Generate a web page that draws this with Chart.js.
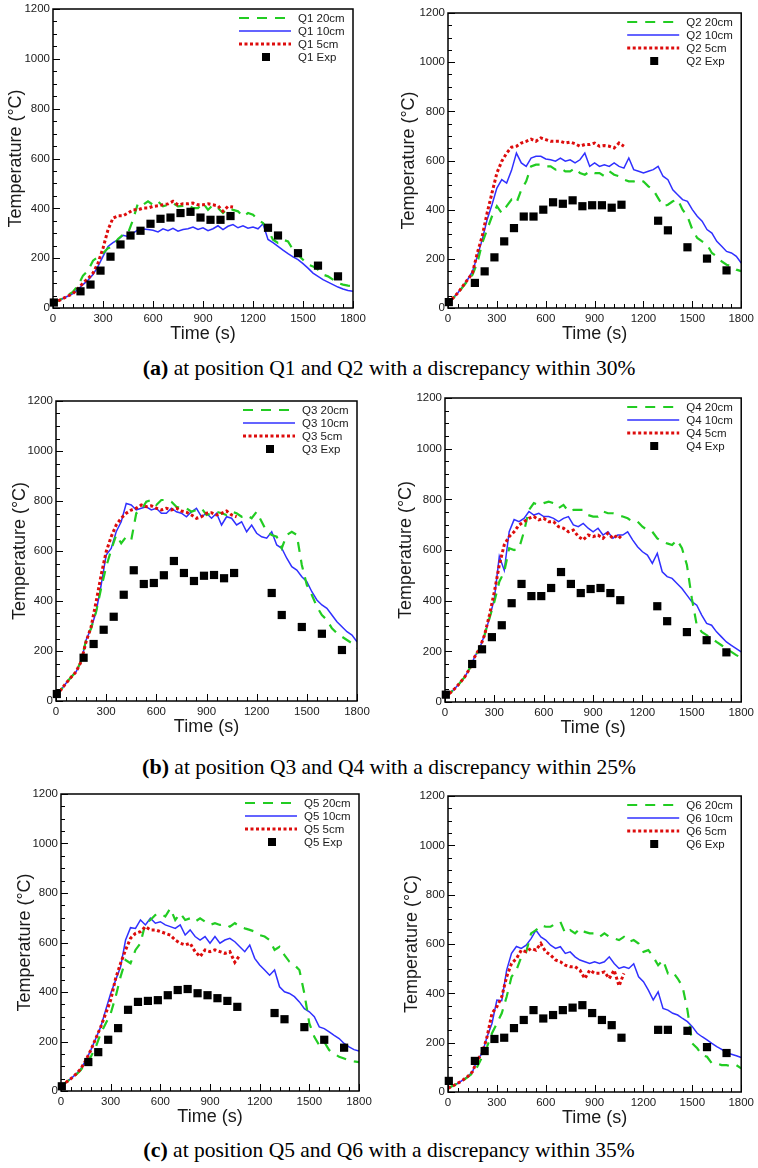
<!DOCTYPE html>
<html><head><meta charset="utf-8">
<script src="https://cdn.jsdelivr.net/npm/chart.js@4.4.1/dist/chart.umd.min.js"></script>
<style>
html,body{margin:0;padding:0;background:#fff;}
body{width:758px;height:1168px;position:relative;overflow:hidden;}
canvas{position:absolute;}
.cap{position:absolute;left:10px;width:758px;text-align:center;font-family:"Liberation Serif","Times New Roman",serif;font-size:21.5px;color:#000;line-height:24px;white-space:nowrap;}
.cap b{font-size:22px;}
</style></head><body>
<div class="cap" style="top:356px"><b>(a)</b> at position Q1 and Q2 with a discrepancy within 30%</div>
<div class="cap" style="top:755px"><b>(b)</b> at position Q3 and Q4 with a discrepancy within 25%</div>
<div class="cap" style="top:1138px"><b>(c)</b> at position Q5 and Q6 with a discrepancy within 35%</div>
<script>
// ---- time axes (s) ----
const TIME = [0,30,60,90,120,150,180,210,240,270,
  300,330,360,390,420,450,480,510,540,570,
  600,630,660,690,720,750,780,810,840,870,
  900,930,960,990,1020,1050,1080,1110,1140,1170,
  1200,1230,1260,1290,1320,1350,1380,1410,1440,1470,
  1500,1530,1560,1590,1620,1650,1680,1710,1740,1770,
  1800];
const TIME_5CM = [0,30,60,90,120,150,180,210,240,270,
  300,330,360,390,420,450,480,510,540,570,
  600,630,660,690,720,750,780,810,840,870,
  900,930,960,990,1020,1050,1080];
const EXP_TIME = [5,165,225,285,345,405,465,525,585,645,705,765,825,885,945,1005,1065,1290,1350,1470,1590,1710];
const X_TICKS = [0,300,600,900,1200,1500,1800];
const Y_TICKS = [0,200,400,600,800,1000,1200];

// ---- Q1 ----
const Q1_20CM = [22,28,40,52,65,90,130,150,190,205,
  220,240,247,277,294,300,354,421,414,428,
  414,428,408,414,421,408,410,414,401,401,
  421,394,414,401,381,401,394,388,367,381,
  374,354,341,314,274,261,274,267,234,214,
  194,174,167,154,134,127,114,100,94,90,
  87];
const Q1_10CM = [22,28,38,48,58,75,94,112,134,167,
  207,247,262,274,292,287,300,314,317,315,
  312,305,318,310,320,308,315,318,325,315,
  322,310,318,330,315,328,335,322,330,320,
  325,318,338,275,262,247,232,218,205,194,
  178,160,140,127,114,104,94,84,76,70,
  67];
const Q1_5CM = [22,28,38,48,58,78,100,118,140,180,
  240,314,361,370,370,381,394,394,401,401,
  408,410,414,418,428,414,418,418,421,414,
  414,418,414,410,388,408,405];
const Q1_EXP = [22,67,94,150,206,255,291,310,338,358,363,381,386,363,354,354,369,322,291,220,170,127];

// ---- Q2 ----
const Q2_20CM = [20,40,58,85,110,135,183,264,319,373,
  414,386,414,441,427,481,515,576,583,583,
  576,576,563,569,556,556,569,549,542,556,
  549,549,536,556,542,536,522,515,515,508,
  515,495,481,447,414,420,434,441,400,373,
  319,285,271,258,224,210,190,176,169,156,
  150];
const Q2_10CM = [20,40,61,88,115,149,210,278,359,420,
  488,522,508,560,630,590,576,610,617,617,
  606,603,597,610,597,603,590,603,630,576,
  590,576,583,576,590,576,569,610,563,556,
  549,556,563,576,536,522,481,461,441,434,
  400,373,353,319,305,271,251,230,224,210,
  183];
const Q2_5CM = [20,40,61,88,115,142,224,292,386,468,
  549,597,630,654,658,671,678,687,678,692,
  685,678,678,678,671,675,668,658,665,665,
  671,658,661,658,651,671,658];
const Q2_EXP = [24,102,149,206,271,325,372,372,400,430,424,438,414,418,418,408,420,355,316,247,201,153];

// ---- Q3 ----
const Q3_20CM = [24,45,71,95,117,160,244,291,357,451,
  537,604,664,631,657,644,751,764,797,804,
  784,804,804,797,777,771,771,757,764,771,
  744,751,757,751,744,757,751,737,744,731,
  757,717,677,664,657,611,664,677,664,544,
  464,424,377,344,324,291,271,257,244,231,
  211];
const Q3_10CM = [24,45,71,95,117,157,244,291,357,464,
  584,610,677,717,790,784,764,771,777,764,
  771,751,751,771,757,751,737,757,771,737,
  751,731,751,704,737,731,704,717,677,704,
  671,657,651,677,624,611,571,537,524,497,
  477,437,404,384,371,344,317,297,277,264,
  237];
const Q3_5CM = [24,45,71,95,117,157,237,297,397,504,
  597,657,704,731,751,764,771,784,777,781,
  771,764,771,764,771,760,755,744,731,737,
  751,753,744,751,760,744,737];
const Q3_EXP = [28,173,228,285,337,425,523,468,472,503,560,512,480,501,504,491,512,432,344,296,269,204];

// ---- Q4 ----
const Q4_20CM = [20,35,53,75,99,132,178,211,264,330,
  396,475,514,607,600,607,672,758,785,778,
  785,791,785,765,778,752,758,758,758,738,
  732,732,752,745,745,738,732,725,712,712,
  692,679,672,646,633,626,620,640,607,541,
  409,303,277,264,251,237,224,211,198,185,
  175];
const Q4_10CM = [20,35,53,75,99,132,178,211,264,330,
  409,575,520,672,720,712,725,752,738,745,
  732,732,725,712,725,732,699,692,705,686,
  672,686,659,672,646,659,659,672,640,613,
  593,580,547,587,514,495,488,468,448,422,
  396,382,343,310,303,277,257,237,224,211,
  198];
const Q4_5CM = [20,35,53,75,99,132,178,211,264,343,
  435,541,620,653,672,699,712,725,732,719,
  725,712,712,692,686,672,679,653,640,659,
  653,659,646,666,646,659,640];
const Q4_EXP = [29,150,208,256,303,390,466,418,418,450,513,466,430,446,450,430,402,378,319,276,244,196];

// ---- Q5 ----
const Q5_20CM = [23,35,50,65,85,115,138,178,232,273,
  313,381,462,529,516,570,597,678,691,711,
  718,705,738,691,718,691,698,684,698,684,
  671,678,671,675,664,678,664,657,651,644,
  630,624,610,570,583,549,522,509,489,394,
  273,219,185,198,165,151,138,131,124,120,
  117];
const Q5_10CM = [23,35,50,68,90,124,165,212,259,327,
  394,448,502,610,660,657,691,671,698,678,
  684,671,664,657,671,630,651,624,610,624,
  597,624,597,610,617,603,583,563,590,536,
  509,489,468,489,421,401,394,381,360,333,
  320,300,259,252,239,225,212,192,178,167,
  161];
const Q5_5CM = [23,35,50,68,90,124,165,212,259,313,
  367,455,516,570,617,637,644,664,651,651,
  644,637,630,610,597,590,597,563,543,570,
  563,570,563,556,563,520,549];
const Q5_EXP = [19,117,157,207,254,328,360,364,367,387,408,412,395,387,375,364,340,315,290,258,207,175];

// ---- Q6 ----
const Q6_20CM = [15,25,35,45,60,75,103,143,184,238,
  278,319,386,467,494,548,568,643,656,676,
  670,670,683,690,643,656,643,663,649,643,
  643,629,643,629,622,616,629,609,616,602,
  568,575,548,514,535,481,487,460,427,332,
  197,177,150,143,116,116,109,109,103,109,
  96];
const Q6_10CM = [15,25,35,48,62,82,130,157,224,278,
  373,370,494,562,590,582,595,622,656,629,
  616,595,582,589,562,568,548,535,528,521,
  528,521,528,548,521,501,508,501,520,467,
  447,413,373,406,339,332,319,312,298,285,
  265,238,224,211,197,184,173,159,153,147,
  140];
const Q6_5CM = [15,25,35,48,62,82,130,157,224,319,
  346,386,467,521,541,575,568,582,575,602,
  568,555,535,528,514,508,508,494,460,494,
  481,481,487,460,494,430,481];
const Q6_EXP = [45,126,166,215,220,259,292,332,298,312,332,342,352,320,292,271,220,252,252,248,182,158];

const GREEN = '#22cc22', BLUE = '#3030ff', RED = '#dd0c0c', BLACK = '#000000';
const FONT = '"Liberation Sans", Arial, Helvetica, sans-serif';
const TXT = '#1a1a1a';

const framePlugin = {
  id: 'frameTicksLegend',
  afterDraw(chart) {
    const {ctx, chartArea: a, scales: {x, y}} = chart;
    ctx.save();
    // inward ticks
    ctx.strokeStyle = '#000'; ctx.lineWidth = 1;
    ctx.beginPath();
    for (let v = x.min; v <= x.max; v += 60) {
      const px = Math.round(x.getPixelForValue(v)) + 0.5;
      const len = (v % 300 === 0) ? 7 : 4;
      ctx.moveTo(px, a.bottom); ctx.lineTo(px, a.bottom - len);
    }
    for (let v = y.min; v <= y.max; v += 50) {
      const py = Math.round(y.getPixelForValue(v)) + 0.5;
      const len = (v % 200 === 0) ? 7 : 4;
      ctx.moveTo(a.left, py); ctx.lineTo(a.left + len, py);
    }
    ctx.stroke();
    // frame
    ctx.lineWidth = 1.5;
    ctx.strokeRect(a.left, a.top, a.right - a.left, a.bottom - a.top);
    // legend
    ctx.font = '11.5px ' + FONT;
    ctx.textBaseline = 'middle';
    ctx.textAlign = 'left';
    chart.data.datasets.forEach((ds, i) => {
      const ry = a.top + 9 + i * 13;
      if (ds.showLine === false) {
        ctx.fillStyle = ds.backgroundColor;
        ctx.fillRect(a.right - 91, ry - 4, 8, 8);
      } else {
        ctx.strokeStyle = ds.borderColor;
        ctx.lineWidth = ds.borderWidth;
        ctx.setLineDash(ds.borderDash || []);
        ctx.beginPath();
        ctx.moveTo(a.right - 114, ry); ctx.lineTo(a.right - 62, ry);
        ctx.stroke();
        ctx.setLineDash([]);
      }
      ctx.fillStyle = TXT;
      ctx.fillText(ds.label, a.right - 55, ry + 0.5);
    });
    ctx.restore();
  }
};

const PANELS = [
  {name:'Q1', col:0, plot:[53,9,353,308], yt:16, d20:Q1_20CM, d10:Q1_10CM, d5:Q1_5CM, exp:Q1_EXP},
  {name:'Q2', col:1, plot:[448,13,746,308], yt:409, d20:Q2_20CM, d10:Q2_10CM, d5:Q2_5CM, exp:Q2_EXP},
  {name:'Q3', col:0, plot:[56,401,357,701], yt:20, d20:Q3_20CM, d10:Q3_10CM, d5:Q3_5CM, exp:Q3_EXP},
  {name:'Q4', col:1, plot:[445,398,748,702], yt:406, d20:Q4_20CM, d10:Q4_10CM, d5:Q4_5CM, exp:Q4_EXP},
  {name:'Q5', col:0, plot:[61,794,359,1091], yt:25, d20:Q5_20CM, d10:Q5_10CM, d5:Q5_5CM, exp:Q5_EXP},
  {name:'Q6', col:1, plot:[448,796,746,1092], yt:412, d20:Q6_20CM, d10:Q6_10CM, d5:Q6_5CM, exp:Q6_EXP}
];

const pts = (xs, ys) => xs.map((t, i) => ({x: t, y: ys[i]}));

PANELS.forEach(p => {
  const cl = p.col ? 379 : 0;
  const [pl, pt, pr, pb] = p.plot;
  const ct = pt - 12;
  const XH = 40;
  const ch = pb - ct + XH;
  const cw = 379;
  const cv = document.createElement('canvas');
  cv.width = cw; cv.height = ch;
  cv.style.left = cl + 'px'; cv.style.top = ct + 'px';
  cv.style.width = cw + 'px'; cv.style.height = ch + 'px';
  document.body.appendChild(cv);
  const lh = 18 * 1.2;
  const yW = pl - cl;
  new Chart(cv, {
    type: 'line',
    data: {
      datasets: [
        {label: p.name + ' 20cm', data: pts(TIME, p.d20), borderColor: GREEN, borderWidth: 2.2, borderDash: [10, 8], pointRadius: 0, fill: false, tension: 0, order: 2},
        {label: p.name + ' 10cm', data: pts(TIME, p.d10), borderColor: BLUE, borderWidth: 1.5, pointRadius: 0, fill: false, tension: 0, order: 3},
        {label: p.name + ' 5cm', data: pts(TIME_5CM, p.d5), borderColor: RED, borderWidth: 3, borderDash: [3, 2.5], pointRadius: 0, fill: false, tension: 0, order: 1},
        {label: p.name + ' Exp', data: pts(EXP_TIME, p.exp), showLine: false, pointStyle: 'rect', pointRadius: 5.8, pointHoverRadius: 5.8, backgroundColor: BLACK, borderColor: BLACK, borderWidth: 0, clip: false, order: 0}
      ]
    },
    options: {
      responsive: false, animation: false, devicePixelRatio: 1,
      layout: {padding: {left: 0, top: pt - ct, right: cl + cw - pr, bottom: 0}},
      plugins: {legend: {display: false}, tooltip: {enabled: false}},
      scales: {
        x: {
          type: 'linear', min: 0, max: 1800,
          afterBuildTicks: s => { s.ticks = X_TICKS.map(v => ({value: v})); },
          ticks: {padding: 4, color: TXT, font: {family: FONT, size: 11.5}, autoSkip: false, maxRotation: 0, callback: v => String(v)},
          grid: {display: false, drawTicks: false}, border: {display: false},
          title: {display: true, text: 'Time (s)', color: TXT, font: {family: FONT, size: 18, lineHeight: 1.2}, padding: {top: 0, bottom: XH - 26 - lh / 2}},
          afterFit: s => { s.height = XH; }
        },
        y: {
          type: 'linear', min: 0, max: 1200,
          afterBuildTicks: s => { s.ticks = Y_TICKS.map(v => ({value: v})); },
          ticks: {padding: 3, color: TXT, font: {family: FONT, size: 11.5}, autoSkip: false, callback: v => String(v)},
          grid: {display: false, drawTicks: false}, border: {display: false},
          title: {display: true, text: 'Temperature (°C)', color: TXT, font: {family: FONT, size: 18, lineHeight: 1.2}, padding: {top: p.yt - cl - lh / 2, bottom: 0}},
          afterFit: s => { s.width = yW; }
        }
      }
    },
    plugins: [framePlugin]
  });
});
</script>
</body></html>
